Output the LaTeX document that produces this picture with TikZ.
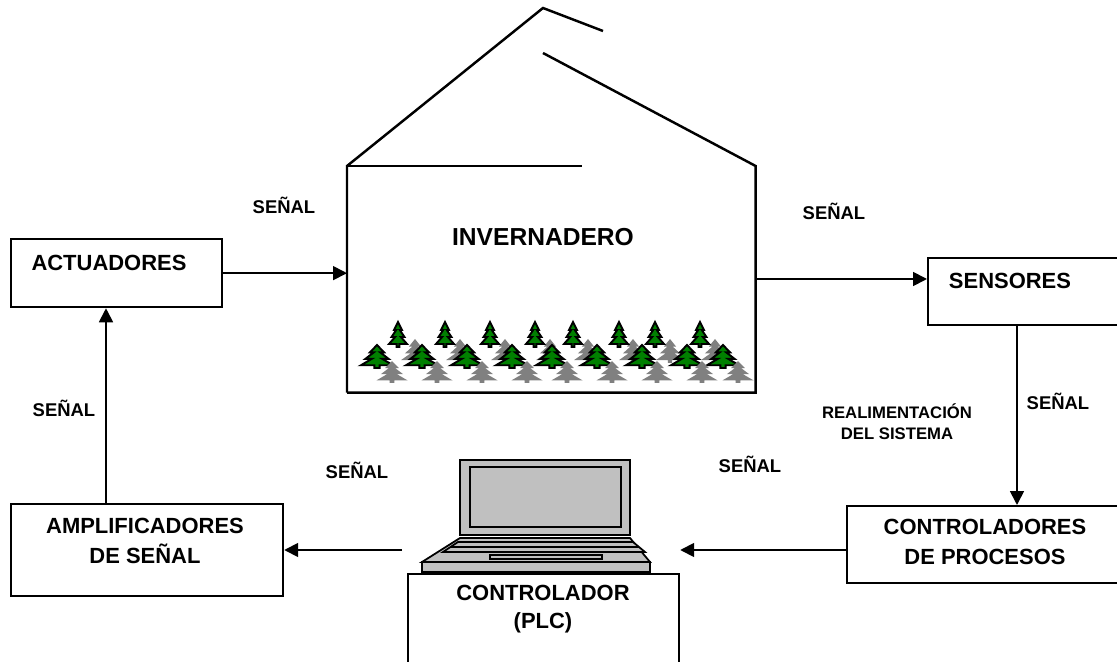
\documentclass[tikz,border=0pt]{standalone}
\usepackage{fontspec}
\setmainfont{Liberation Sans}
\usepackage{tikz}
\usetikzlibrary{arrows.meta}

\definecolor{firgreen}{RGB}{0,128,0}
\definecolor{firgray}{RGB}{128,128,128}
\definecolor{lapgray}{RGB}{192,192,192}

\tikzset{
    block/.style={draw, line width=1.3pt, inner sep=0pt, anchor=north west},
    boxtext/.style={font=\bfseries\fontsize{12.5}{17}\selectfont, align=center},
    signal/.style={font=\bfseries\fontsize{10.5}{12}\selectfont, align=center},
    flow/.style={line width=1pt, -{Triangle[length=0.28cm, width=0.28cm]}},
    wall/.style={line width=1.4pt},
    lap/.style={draw=black, fill=lapgray, line width=1pt},
    greenfir/.style={fill=firgreen, draw=black, line width=1.1pt},
    grayfir/.style={fill=firgray},
    fir/.pic={
        \path[pic actions] (0,0) -- (0.22,0.32) -- (0.1,0.32) -- (0.36,0.6)
            -- (0.16,0.6) -- (0.5,0.88) -- (0.08,0.88) -- (0.08,1)
            -- (-0.08,1) -- (-0.08,0.88) -- (-0.5,0.88) -- (-0.16,0.6)
            -- (-0.36,0.6) -- (-0.1,0.32) -- (-0.22,0.32) -- cycle;
    },
}

\begin{document}
\begin{tikzpicture}[x=0.02cm, y=-0.02cm]
    \clip (0,0) rectangle (1117,662);

    % greenhouse
    \node[inner sep=0pt, anchor=north west, minimum width=8.16cm, minimum height=4.52cm] (inv) at (347,166) {};
    \draw[wall] (inv.south west) -- (inv.north west) -- (543,8) -- (603,31);
    \draw[wall] (inv.north west) -- (582,166);
    \draw[wall] (543,53) -- (inv.north east) -- (inv.south east) -- (inv.south west);
    \node[boxtext, font=\bfseries\fontsize{14}{17}\selectfont] (invtext) at (543,237) {INVERNADERO};

    % rows of firs
    \foreach \x in {415,460,505,550,588,633,670,715}
        \pic[grayfir, xscale=28, yscale=24] at (\x,339) {fir};
    \foreach \x in {377,422,467,512,552,597,642,687,723}
        \pic[greenfir, xscale=32, yscale=23] at (\x,345) {fir};
    \foreach \x in {398,445,490,535,573,619,655,700}
        \pic[greenfir, xscale=18, yscale=25] at (\x,322) {fir};
    \foreach \x in {392,437,482,527,567,612,657,702,738}
        \pic[grayfir, xscale=31, yscale=22] at (\x,361) {fir};

    % laptop
    \draw[lap] (460,460) rectangle (630,535);
    \draw[lap] (470,467) rectangle (621,527);
    \draw[lap] (460,538) -- (630,538) -- (650,562) -- (422,562) -- cycle;
    \draw[lap] (458,542) -- (633,542) -- (645,552) -- (443,552) -- cycle;
    \draw[line width=1pt] (451,547) -- (639,547);
    \draw[lap] (490,555) rectangle (602,559);
    \draw[lap] (422,562) rectangle (650,572);

    % blocks
    \node[block, minimum width=4.22cm, minimum height=1.36cm] (act) at (10,238) {};
    \node[boxtext] (acttext) at (109,263) {ACTUADORES};
    \node[block, minimum width=4.0cm, minimum height=1.34cm] (sens) at (927,257) {};
    \node[boxtext] (senstext) at (1010,281) {SENSORES};
    \node[block, minimum width=5.6cm, minimum height=1.54cm] (ctrl) at (846,505) {};
    \node[boxtext] (ctrltext) at (985,542) {CONTROLADORES\\DE PROCESOS};
    \node[block, minimum width=5.42cm, minimum height=2cm] (plc) at (407,573) {};
    \node[boxtext, font=\bfseries\fontsize{12.5}{16}\selectfont] (plctext) at (543,609) {CONTROLADOR\\(PLC)};
    \node[block, minimum width=5.44cm, minimum height=1.84cm] (amp) at (10,503) {};
    \node[boxtext] (amptext) at (145,541) {AMPLIFICADORES\\DE SEÑAL};

    % signal paths
    \coordinate (up) at (106,0);
    \coordinate (down) at (1017,0);
    \coordinate (right) at (0,279);
    \coordinate (back) at (0,550);
    \coordinate (plcout) at (402,550);

    \draw[flow] (act.east) -- (act.east -| inv.west);
    \draw[flow] (inv.east |- right) -- (sens.west |- right);
    \draw[flow] (sens.south -| down) -- (ctrl.north -| down);
    \draw[flow] (ctrl.west |- back) -- (plc.east |- back);
    \draw[flow] (plcout) -- (amp.east |- back);
    \draw[flow] (amp.north -| up) -- (act.south -| up);

    \node[signal] (s1) at (284,205) {SEÑAL};
    \node[signal] (s2) at (834,211) {SEÑAL};
    \node[signal] (s3) at (64,408) {SEÑAL};
    \node[signal] (s4) at (1058,401) {SEÑAL};
    \node[signal] (s5) at (357,470) {SEÑAL};
    \node[signal] (s6) at (750,464) {SEÑAL};
    \node[signal, font=\bfseries\fontsize{9.5}{12}\selectfont] (feedback) at (897,422) {REALIMENTACIÓN\\DEL SISTEMA};
\end{tikzpicture}
\end{document}
